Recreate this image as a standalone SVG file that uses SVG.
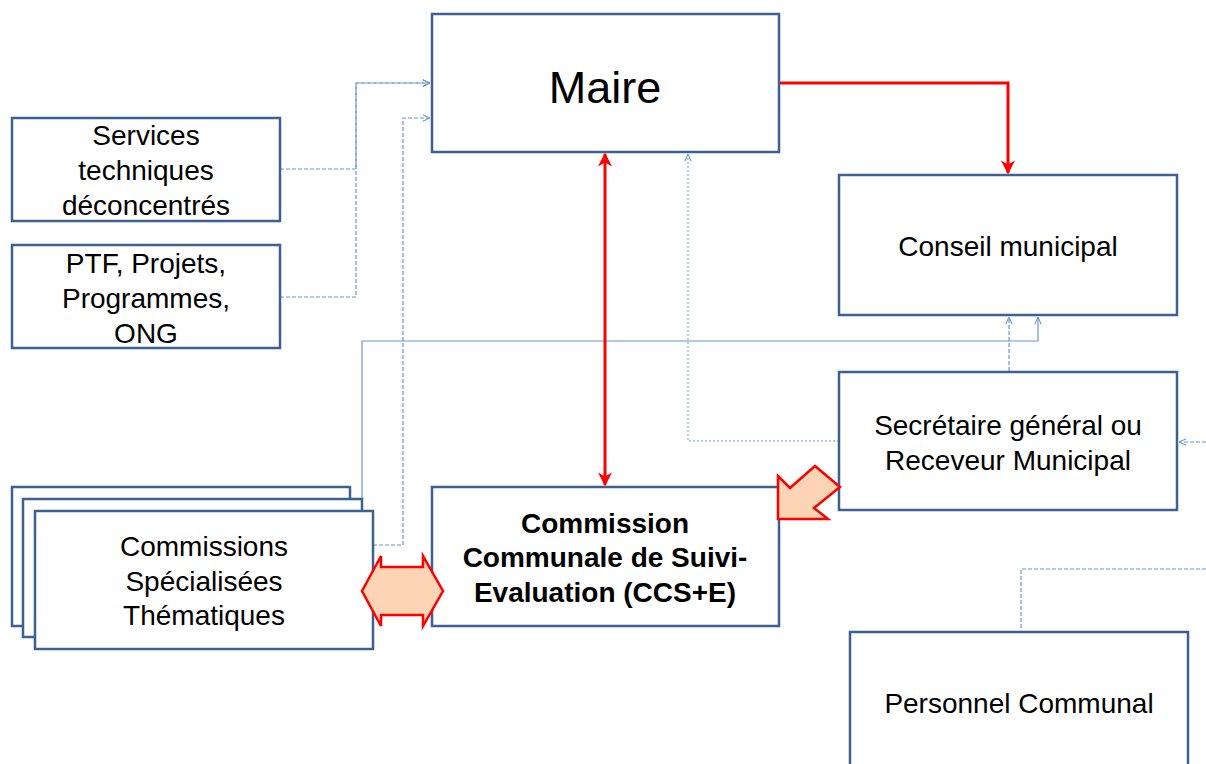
<svg xmlns="http://www.w3.org/2000/svg" width="1206" height="764" viewBox="0 0 1206 764">
<style>
.box{fill:#fff;stroke:#3C6094;stroke-width:2.5}
.t{font-family:"Liberation Sans",Arial,sans-serif;font-size:28px;fill:#000;text-anchor:middle}
.b{font-weight:bold}
.c{fill:none;stroke:#6A97CF;stroke-width:1.2}
.d{stroke-dasharray:4 2}
.dt{stroke-dasharray:2 2;stroke:#9DB9DE;stroke-width:1.5}
.red{fill:none;stroke:#FF0000;stroke-width:3}
.blk{fill:#FBD5B5;stroke:#FF0000;stroke-width:2.5;stroke-linejoin:miter}
</style>
<defs>
<marker id="oa" viewBox="0 0 10 10" refX="10" refY="5" markerWidth="8" markerHeight="8" markerUnits="userSpaceOnUse" orient="auto">
<path d="M1,1 L10,5 L1,9" fill="none" stroke="#6A97CF" stroke-width="1.3"/>
</marker>
<marker id="ra" viewBox="0 0 10 10" refX="9" refY="5" markerWidth="14" markerHeight="14" markerUnits="userSpaceOnUse" orient="auto-start-reverse">
<path d="M0,0 L10,5 L0,10 L3,5 Z" fill="#FF0000"/>
</marker>
</defs>

<g id="connectors">
<path class="c d" d="M280,169 H356 V83 H430" marker-end="url(#oa)"/>
<path class="c d" d="M280,297 H356 V83 H430" marker-end="url(#oa)"/>
<path class="c d" d="M373,545 H403 V118 H430" marker-end="url(#oa)"/>
<path class="c" d="M362,499 V341 H1038 V317" marker-end="url(#oa)"/>
<path class="c d" d="M1009,371 V317" marker-end="url(#oa)"/>
<path class="c dt" d="M839,441 H688 V154" marker-end="url(#oa)"/>
<path class="c d" d="M1206,442 H1179" marker-end="url(#oa)"/>
<path class="c d" d="M1206,569 H1021 V628"/>
<path class="red" d="M780,83 H1008 V173" marker-end="url(#ra)"/>
<path class="red" d="M605,154 V485" marker-start="url(#ra)" marker-end="url(#ra)"/>
</g>

<g id="maire">
<rect class="box" x="432" y="14" width="347" height="138"/>
<text class="t" x="605" y="103" style="font-size:45px">Maire</text>
</g>

<g id="services">
<rect class="box" x="12" y="118" width="268" height="103"/>
<text class="t" x="146" y="145">Services</text>
<text class="t" x="146" y="180">techniques</text>
<text class="t" x="146" y="215">déconcentrés</text>
</g>

<g id="ptf">
<rect class="box" x="12" y="245" width="268" height="103"/>
<text class="t" x="146" y="273">PTF, Projets,</text>
<text class="t" x="146" y="308">Programmes,</text>
<text class="t" x="146" y="343">ONG</text>
</g>

<g id="conseil">
<rect class="box" x="839" y="175" width="338" height="140"/>
<text class="t" x="1008" y="256">Conseil municipal</text>
</g>

<g id="secretaire">
<rect class="box" x="839" y="372" width="338" height="138"/>
<text class="t" x="1008" y="435">Secrétaire général ou</text>
<text class="t" x="1008" y="470">Receveur Municipal</text>
</g>

<g id="personnel">
<rect class="box" x="850" y="632" width="338" height="140"/>
<text class="t" x="1019" y="713">Personnel Communal</text>
</g>

<g id="ccse">
<rect class="box" x="432" y="487" width="347" height="139"/>
<text class="t b" x="605" y="533">Commission</text>
<text class="t b" x="605" y="567">Communale de Suivi-</text>
<text class="t b" x="605" y="602">Evaluation (CCS+E)</text>
</g>

<g id="commissions">
<rect class="box" x="12" y="487" width="338" height="139"/>
<rect class="box" x="23" y="499" width="339" height="138"/>
<rect class="box" x="35" y="511" width="338" height="138"/>
<text class="t" x="204" y="556">Commissions</text>
<text class="t" x="204" y="591">Spécialisées</text>
<text class="t" x="204" y="625">Thématiques</text>
</g>

<g id="arrow-secretaire-ccse">
<polygon class="blk" points="778,476 790,488 815,466 840,487 814,508 828,519 778,519"/>
</g>

<g id="arrow-commissions-ccse">
<polygon class="blk" points="362,591 381,556 381,567 423,567 423,556 443,591 423,626 423,615 381,615 381,626"/>
</g>
</svg>
